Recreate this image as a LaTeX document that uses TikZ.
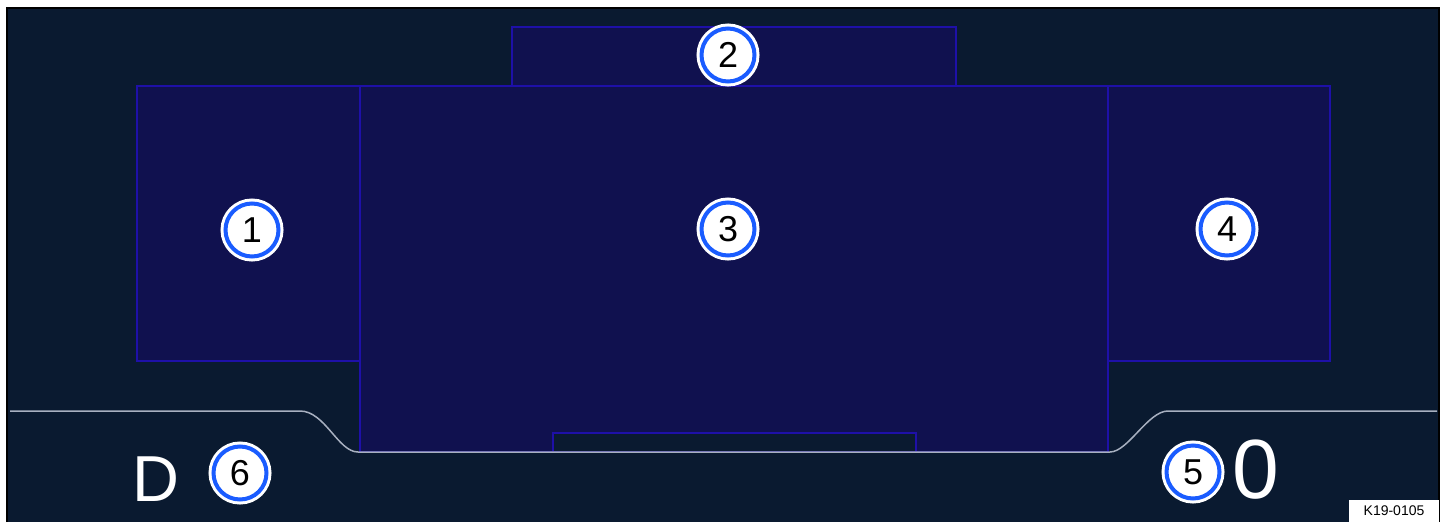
\documentclass[tikz,border=0pt]{standalone}
\usepackage{fontspec}
\setmainfont{Liberation Sans}
\usetikzlibrary{positioning}
\definecolor{navy}{HTML}{0A1A30}
\definecolor{panelfill}{HTML}{10114F}
\definecolor{paneledge}{HTML}{1E10A8}
\definecolor{ringblue}{HTML}{1A5CFF}
\definecolor{railgray}{HTML}{A8B0C0}
\begin{document}
\begin{tikzpicture}[
  x=1pt,y=-1pt,
  panel/.style={draw=paneledge,fill=panelfill,line width=1.2pt},
  marker/.style={circle,draw=ringblue,fill=white,line width=4pt,minimum size=53pt,inner sep=0pt,
    preaction={draw=white,line width=10pt},font=\fontsize{36}{36}\selectfont},
  big/.style={text=white,inner sep=0pt},
  rail/.style={draw=railgray,line width=1.5pt}
]
\useasboundingbox (0,0) rectangle (1447,522);
\fill[navy] (7,8) rectangle (1439,522);
\draw[black,line width=2pt] (7,522) -- (7,8) -- (1439,8) -- (1439,522);
\draw[panel] (137,86) rectangle (360,361);
\draw[panel] (512,27) rectangle (956,86);
\draw[panel] (1108,86) rectangle (1330,361);
\draw[panel] (360,86) rectangle (1108,452);
\draw[draw=paneledge,fill=navy,line width=1.2pt] (553,433) rectangle (916,452);
\draw[rail] (10,411) -- (300,411) .. controls (325,411) and (338,452) .. (358,452)
  -- (1110,452) .. controls (1128,452) and (1148,411) .. (1168,411) -- (1437,411);
\node[marker] (m1) at (252,230) {1};
\node[marker] (m2) at (728,55) {2};
\node[marker] (m3) at (728,229) {3};
\node[marker] (m4) at (1227,229) {4};
\node[marker] (m5) at (1193,472) {5};
\node[marker] (m6) at (240,473) {6};
\node[big,font=\fontsize{65}{65}\selectfont] (gear) at (156,479) {D};
\node[big,font=\fontsize{84}{84}\selectfont] (speed) at (1256,470) {0};
\node[fill=white,minimum width=90pt,minimum height=22pt,inner sep=0pt,
  font=\fontsize{14}{14}\selectfont] (code) at (1394,511) {K19-0105};
\end{tikzpicture}
\end{document}
